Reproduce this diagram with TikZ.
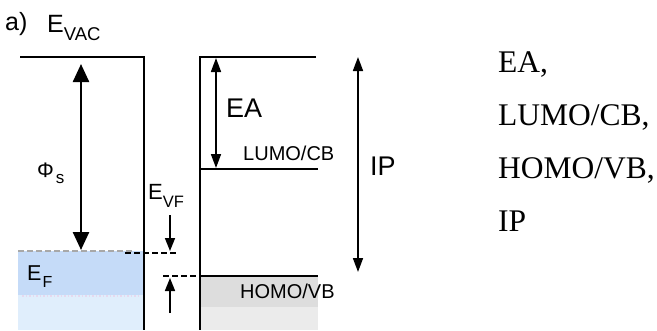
\documentclass[tikz,border=0pt]{standalone}
\usepackage{fontspec}
\setmainfont{Liberation Serif}
\setsansfont{Liberation Sans}
\usepackage{xcolor}
\usepackage{tikz}
\usetikzlibrary{arrows.meta}

\definecolor{metalA}{HTML}{C5DBF8}
\definecolor{metalB}{HTML}{E0EEFC}
\definecolor{semiA}{HTML}{DDDDDD}
\definecolor{semiB}{HTML}{EBEBEB}
\definecolor{fermigray}{HTML}{A8A8A8}
\definecolor{faintdot}{HTML}{E6D8EE}

% lowered subscript: drop, size, text
\newcommand{\lowsub}[3]{\raisebox{-#1}{\fontsize{#2}{#2}\selectfont #3}}

\begin{document}
\begin{tikzpicture}[
    x=1pt, y=-1pt,
    lvl/.style={line width=1.6pt},
    lab/.style={inner sep=0pt, anchor=base west, font=\sffamily\fontsize{#1}{#1}\selectfont},
    txt/.style={inner sep=0pt, anchor=base west, font=\fontsize{31.5pt}{36pt}\selectfont},
    fermi/.style={dash pattern=on 6pt off 3pt, line width=1.4pt},
    big/.style={line width=2.5pt, {Triangle[length=18pt,width=16pt]}-{Triangle[length=18pt,width=16pt]}},
    dbl/.style={line width=1.7pt, {Triangle[length=14pt,width=10pt]}-{Triangle[length=14pt,width=10pt]}},
    sgl/.style={line width=1.7pt, -{Triangle[length=13pt,width=10pt]}}
]
\useasboundingbox (0,0) rectangle (657,330);

% filled bands
\fill[metalA] (18,251) rectangle (143,295);
\fill[metalB] (18,295) rectangle (143,330);
\draw[faintdot, dotted, line width=1.5pt] (22,296) -- (138,296);
\fill[semiA] (200,277) rectangle (318,307);
\fill[semiB] (200,307) rectangle (318,330);

% levels
\draw[lvl] (20,57) -- (144,57) -- (144,330);
\draw[lvl] (316,57) -- (200,57) -- (200,330);
\draw[lvl] (200,169) -- (318,169);
\draw[lvl] (200,276) -- (318,276);
\draw[fermi, fermigray] (18,251) -- (132,251);
\draw[fermi] (125,253) -- (177,253);
\draw[fermi] (163,276) -- (200,276);

% arrow ends
\coordinate (phiT) at (81,64);
\coordinate (phiB) at (81,250);
\coordinate (vfT) at (170,215);
\coordinate (vfB) at (170,251);
\coordinate (vfU) at (170,313);
\coordinate (vfH) at (170,278);
\coordinate (eaT) at (216,58);
\coordinate (eaB) at (216,168);
\coordinate (ipT) at (358,57);
\coordinate (ipB) at (358,272);

\draw[big] (phiT) -- (phiB);
\draw[sgl] (vfT) -- (vfB);
\draw[sgl] (vfU) -- (vfH);
\draw[dbl] (eaT) -- (eaB);
\draw[dbl] (ipT) -- (ipB);

% labels
\node[lab=25pt] (tag) at (5,30) {a)};
\node[lab=25pt] (vac) at (47,32) {E\lowsub{8pt}{18.5pt}{VAC}};
\node[lab=21pt] (phi) at (37,177) {Φ\kern2pt\lowsub{6pt}{17pt}{s}};
\node[lab=21.5pt] (ef) at (27,280) {E\kern1pt\lowsub{7pt}{16pt}{F}};
\node[lab=22pt] (evf) at (148,199) {E\lowsub{8pt}{16.5pt}{VF}};
\node[lab=27pt] (ea) at (226,117) {EA};
\node[lab=27pt] (ip) at (370,175) {IP};
\node[lab=20pt] (lumo) at (243,160) {LUMO/CB};
\node[lab=20pt] (homo) at (240,298) {HOMO/VB};

% list at right
\node[txt] (t1) at (498,72) {EA,};
\node[txt] (t2) at (498,125) {LUMO/CB,};
\node[txt] (t3) at (498,178) {HOMO/VB,};
\node[txt] (t4) at (498,231) {IP};

\end{tikzpicture}
\end{document}
